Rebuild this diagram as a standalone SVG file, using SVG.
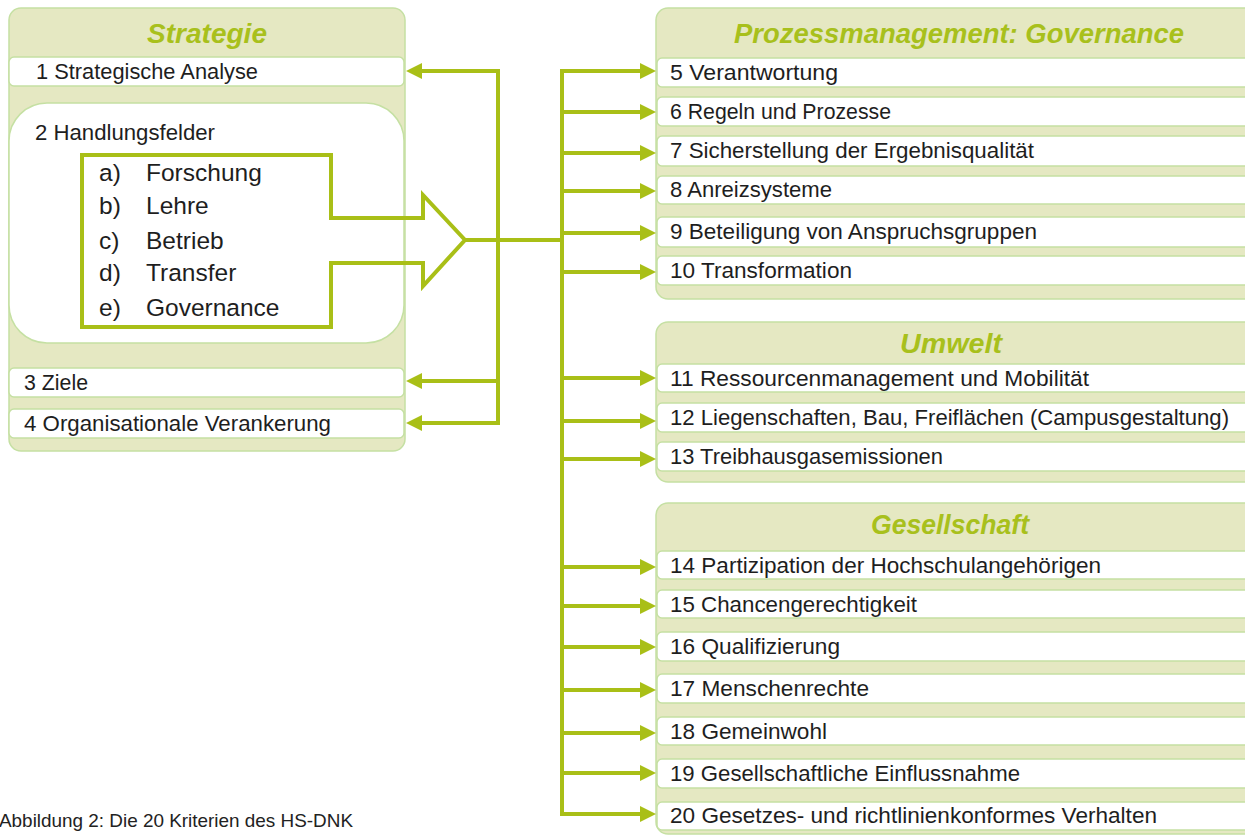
<svg xmlns="http://www.w3.org/2000/svg" width="1245" height="836" viewBox="0 0 1245 836">
<defs>
<style>
.panel{fill:#e5e8c2;stroke:#c5e0a3;stroke-width:1.5}
.row{fill:#ffffff;stroke:#c5e0a3;stroke-width:1.5}
.hd{font-family:"Liberation Sans",Arial,sans-serif;font-weight:bold;font-style:italic;font-size:27px;fill:#a8c01c;text-anchor:middle}
.t{font-family:"Liberation Sans",Arial,sans-serif;font-size:21.5px;fill:#1e1e1e}
.li{font-family:"Liberation Sans",Arial,sans-serif;font-size:24.5px;fill:#1e1e1e}
.cap{font-family:"Liberation Sans",Arial,sans-serif;font-size:19px;fill:#222222}
.c{stroke:#a9bf17;stroke-width:4;fill:none}
.a{stroke:#a9bf17;stroke-width:4;fill:none;marker-end:url(#ah)}
</style>
<marker id="ah" markerWidth="16" markerHeight="16" refX="1" refY="8" orient="auto" markerUnits="userSpaceOnUse">
<path d="M0,0 L16,8 L0,16 Z" fill="#a9bf17"/>
</marker>
</defs>

<g id="strategie">
<rect class="panel" x="9" y="8" width="396" height="443" rx="12"/>
<text class="hd" x="207" y="43" textLength="120" lengthAdjust="spacingAndGlyphs">Strategie</text>
</g>
<g id="k1">
<rect class="row" x="9" y="57" width="395" height="29" rx="5"/>
<text class="t" x="36" y="79" textLength="222" lengthAdjust="spacingAndGlyphs">1 Strategische Analyse</text>
</g>
<g id="k2">
<rect class="row" x="9" y="103" width="395" height="240" rx="38"/>
<text class="t" x="35" y="140" textLength="180" lengthAdjust="spacingAndGlyphs">2 Handlungsfelder</text>
<polygon class="c" points="82,155 331,155 331,218 423,218 423,195 465,240 423,286 423,263 331,263 331,327 82,327"/>
<text class="li" x="99" y="181">a)</text><text class="li" x="146" y="181">Forschung</text>
<text class="li" x="99" y="214">b)</text><text class="li" x="146" y="214">Lehre</text>
<text class="li" x="99" y="249">c)</text><text class="li" x="146" y="249">Betrieb</text>
<text class="li" x="99" y="281">d)</text><text class="li" x="146" y="281">Transfer</text>
<text class="li" x="99" y="316">e)</text><text class="li" x="146" y="316">Governance</text>
</g>
<g id="k3">
<rect class="row" x="9" y="368" width="395" height="29" rx="5"/>
<text class="t" x="24" y="390" textLength="64" lengthAdjust="spacingAndGlyphs">3 Ziele</text>
</g>
<g id="k4">
<rect class="row" x="9" y="409" width="395" height="29" rx="5"/>
<text class="t" x="24" y="431" textLength="307" lengthAdjust="spacingAndGlyphs">4 Organisationale Verankerung</text>
</g>

<g id="governance">
<rect class="panel" x="656" y="8" width="600" height="291" rx="12"/>
<text class="hd" x="959" y="43" textLength="450" lengthAdjust="spacingAndGlyphs">Prozessmanagement: Governance</text>
</g>
<g id="k5"><rect class="row" x="657" y="58" width="598" height="29" rx="5"/><text class="t" x="670" y="80" textLength="168" lengthAdjust="spacingAndGlyphs">5 Verantwortung</text></g>
<g id="k6"><rect class="row" x="657" y="97" width="598" height="29" rx="5"/><text class="t" x="670" y="119" textLength="221" lengthAdjust="spacingAndGlyphs">6 Regeln und Prozesse</text></g>
<g id="k7"><rect class="row" x="657" y="136" width="598" height="30" rx="5"/><text class="t" x="670" y="158" textLength="364" lengthAdjust="spacingAndGlyphs">7 Sicherstellung der Ergebnisqualität</text></g>
<g id="k8"><rect class="row" x="657" y="176" width="598" height="28" rx="5"/><text class="t" x="670" y="197" textLength="162" lengthAdjust="spacingAndGlyphs">8 Anreizsysteme</text></g>
<g id="k9"><rect class="row" x="657" y="217" width="598" height="30" rx="5"/><text class="t" x="670" y="239" textLength="367" lengthAdjust="spacingAndGlyphs">9 Beteiligung von Anspruchsgruppen</text></g>
<g id="k10"><rect class="row" x="657" y="256" width="598" height="29" rx="5"/><text class="t" x="670" y="278" textLength="182" lengthAdjust="spacingAndGlyphs">10 Transformation</text></g>

<g id="umwelt">
<rect class="panel" x="656" y="322" width="600" height="160" rx="12"/>
<text class="hd" x="951" y="353" textLength="102" lengthAdjust="spacingAndGlyphs">Umwelt</text>
</g>
<g id="k11"><rect class="row" x="657" y="364" width="598" height="28" rx="5"/><text class="t" x="670" y="386" textLength="419" lengthAdjust="spacingAndGlyphs">11 Ressourcenmanagement und Mobilität</text></g>
<g id="k12"><rect class="row" x="657" y="403" width="598" height="29" rx="5"/><text class="t" x="670" y="425" textLength="559" lengthAdjust="spacingAndGlyphs">12 Liegenschaften, Bau, Freiflächen (Campusgestaltung)</text></g>
<g id="k13"><rect class="row" x="657" y="442" width="598" height="29" rx="5"/><text class="t" x="670" y="464" textLength="273" lengthAdjust="spacingAndGlyphs">13 Treibhausgasemissionen</text></g>

<g id="gesellschaft">
<rect class="panel" x="656" y="503" width="600" height="331" rx="12"/>
<text class="hd" x="950" y="534" textLength="158" lengthAdjust="spacingAndGlyphs">Gesellschaft</text>
</g>
<g id="k14"><rect class="row" x="657" y="551" width="598" height="28" rx="5"/><text class="t" x="670" y="573" textLength="431" lengthAdjust="spacingAndGlyphs">14 Partizipation der Hochschulangehörigen</text></g>
<g id="k15"><rect class="row" x="657" y="590" width="598" height="28" rx="5"/><text class="t" x="670" y="612" textLength="247" lengthAdjust="spacingAndGlyphs">15 Chancengerechtigkeit</text></g>
<g id="k16"><rect class="row" x="657" y="632" width="598" height="29" rx="5"/><text class="t" x="670" y="654" textLength="170" lengthAdjust="spacingAndGlyphs">16 Qualifizierung</text></g>
<g id="k17"><rect class="row" x="657" y="674" width="598" height="29" rx="5"/><text class="t" x="670" y="696" textLength="199" lengthAdjust="spacingAndGlyphs">17 Menschenrechte</text></g>
<g id="k18"><rect class="row" x="657" y="717" width="598" height="28" rx="5"/><text class="t" x="670" y="739" textLength="157" lengthAdjust="spacingAndGlyphs">18 Gemeinwohl</text></g>
<g id="k19"><rect class="row" x="657" y="759" width="598" height="29" rx="5"/><text class="t" x="670" y="781" textLength="350" lengthAdjust="spacingAndGlyphs">19 Gesellschaftliche Einflussnahme</text></g>
<g id="k20"><rect class="row" x="657" y="802" width="598" height="28" rx="5"/><text class="t" x="670" y="823" textLength="487" lengthAdjust="spacingAndGlyphs">20 Gesetzes- und richtlinienkonformes Verhalten</text></g>

<g id="connectors">
<line class="c" x1="463" y1="240" x2="562" y2="240"/>
<line class="c" x1="498" y1="69" x2="498" y2="425"/>
<line class="a" x1="500" y1="71" x2="421" y2="71"/>
<line class="a" x1="500" y1="381" x2="421" y2="381"/>
<line class="a" x1="500" y1="423" x2="421" y2="423"/>
<line class="c" x1="562" y1="69" x2="562" y2="816"/>
<line class="a" x1="560" y1="71" x2="641" y2="71"/>
<line class="a" x1="560" y1="112" x2="641" y2="112"/>
<line class="a" x1="560" y1="153" x2="641" y2="153"/>
<line class="a" x1="560" y1="191" x2="641" y2="191"/>
<line class="a" x1="560" y1="233" x2="641" y2="233"/>
<line class="a" x1="560" y1="272" x2="641" y2="272"/>
<line class="a" x1="560" y1="378" x2="641" y2="378"/>
<line class="a" x1="560" y1="421" x2="641" y2="421"/>
<line class="a" x1="560" y1="459" x2="641" y2="459"/>
<line class="a" x1="560" y1="567" x2="641" y2="567"/>
<line class="a" x1="560" y1="606" x2="641" y2="606"/>
<line class="a" x1="560" y1="647" x2="641" y2="647"/>
<line class="a" x1="560" y1="690" x2="641" y2="690"/>
<line class="a" x1="560" y1="733" x2="641" y2="733"/>
<line class="a" x1="560" y1="773" x2="641" y2="773"/>
<line class="a" x1="560" y1="814" x2="641" y2="814"/>
</g>

<text class="cap" x="-1" y="827" textLength="354" lengthAdjust="spacingAndGlyphs">Abbildung 2: Die 20 Kriterien des HS-DNK</text>
</svg>
